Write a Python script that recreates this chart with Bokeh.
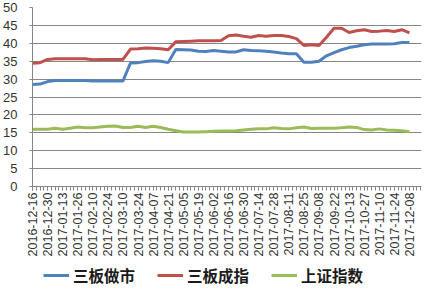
from bokeh.plotting import figure
from bokeh.models import Range1d, FixedTicker, Legend, LegendItem
from bokeh.layouts import column
from bokeh.embed import file_html
from bokeh.resources import INLINE

# Tick labels (every other week)
tick_labels = ["2016-12-16", "2016-12-30", "2017-01-13", "2017-01-26", "2017-02-10",
               "2017-02-24", "2017-03-10", "2017-03-24", "2017-04-07", "2017-04-21",
               "2017-05-05", "2017-05-19", "2017-06-02", "2017-06-16", "2017-06-30",
               "2017-07-14", "2017-07-28", "2017-08-11", "2017-08-25", "2017-09-08",
               "2017-09-22", "2017-10-13", "2017-10-27", "2017-11-10", "2017-11-24",
               "2017-12-08"]

series_names = ["三板做市", "三板成指", "上证指数"]

sanban_zuoshi = [28.5, 28.6, 29.3, 29.6, 29.6, 29.6, 29.6, 29.6, 29.5, 29.5,
                 29.5, 29.5, 29.5, 34.5, 34.6, 34.9, 35.1, 35.0, 34.6, 38.3,
                 38.2, 38.1, 37.8, 37.7, 38.0, 37.8, 37.6, 37.6, 38.2, 38.0,
                 37.9, 37.8, 37.6, 37.3, 37.1, 37.1, 34.7, 34.7, 35.0, 36.5,
                 37.4, 38.2, 38.8, 39.2, 39.6, 39.8, 39.8, 39.8, 39.9, 40.2,
                 40.2]

sanban_chengzhi = [34.4, 34.6, 35.5, 35.7, 35.7, 35.7, 35.7, 35.7, 35.4, 35.5,
                   35.5, 35.5, 35.5, 38.4, 38.5, 38.7, 38.6, 38.5, 38.2, 40.4,
                   40.5, 40.6, 40.7, 40.7, 40.7, 40.8, 42.1, 42.3, 42.0, 41.7,
                   42.2, 42.0, 42.2, 42.2, 41.9, 41.3, 39.4, 39.6, 39.4, 41.7,
                   44.2, 44.2, 43.0, 43.5, 43.8, 43.3, 43.4, 43.6, 43.3, 43.8,
                   42.9]

shangzheng = [16.0, 16.0, 16.0, 16.3, 16.0, 16.3, 16.6, 16.4, 16.4, 16.6,
              16.8, 16.9, 16.5, 16.5, 16.8, 16.5, 16.8, 16.5, 16.0, 15.6,
              15.2, 15.2, 15.2, 15.3, 15.4, 15.5, 15.5, 15.6, 15.8, 16.0,
              16.1, 16.1, 16.4, 16.2, 16.1, 16.4, 16.6, 16.2, 16.3, 16.3,
              16.3, 16.4, 16.6, 16.5, 15.9, 15.8, 16.1, 15.8, 15.7, 15.6,
              15.3]

colors = ["#4F81BD", "#C0504D", "#9BBB59"]
all_series = [sanban_zuoshi, sanban_chengzhi, shangzheng]

x = list(range(len(sanban_zuoshi)))

p = figure(width=425, height=262, output_backend="svg", toolbar_location=None,
           x_range=Range1d(0, 51.6), y_range=Range1d(0, 50),
           min_border_left=32, min_border_right=4, min_border_top=7, min_border_bottom=76)
p.outline_line_color = None
p.background_fill_color = "white"
p.border_fill_color = "white"

for ys, c in zip(all_series, colors):
    p.line(x, ys, line_color=c, line_width=3)

# x axis
major = list(range(0, 2 * len(tick_labels), 2))
p.xaxis.ticker = FixedTicker(ticks=major, minor_ticks=[i * 0.5 for i in range(0, 104)])
p.xaxis.major_label_overrides = {m: lab for m, lab in zip(major, tick_labels)}
p.xaxis.major_label_orientation = 1.5708
p.xaxis.major_label_text_font = "Liberation Sans"
p.xaxis.major_label_text_font_size = "12.5px"
p.xaxis.major_label_text_color = "#333333"
p.xaxis.major_label_standoff = 2
p.xaxis.major_tick_in = 0
p.xaxis.major_tick_out = 4
p.xaxis.minor_tick_in = 0
p.xaxis.minor_tick_out = 4
p.xaxis.axis_line_color = "#868686"
p.xaxis.major_tick_line_color = "#868686"
p.xaxis.minor_tick_line_color = "#868686"
p.xgrid.grid_line_color = None

# y axis
p.yaxis.ticker = FixedTicker(ticks=list(range(0, 51, 5)))
p.yaxis.major_label_text_font = "Liberation Sans"
p.yaxis.major_label_text_font_size = "13px"
p.yaxis.major_label_text_color = "#333333"
p.yaxis.major_label_standoff = 12
p.yaxis.major_tick_in = 0
p.yaxis.major_tick_out = 3
p.yaxis.minor_tick_line_color = None
p.yaxis.axis_line_color = "#868686"
p.yaxis.major_tick_line_color = "#868686"
p.ygrid.grid_line_color = "#868686"
p.ygrid.grid_line_width = 1

# legend strip (series drawn out of view, only their legend glyphs show)
leg = figure(width=425, height=27, output_backend="svg", toolbar_location=None,
             x_range=Range1d(-10, -9), y_range=Range1d(-10, -9),
             min_border_left=0, min_border_right=0, min_border_top=0, min_border_bottom=0,
             x_axis_type=None, y_axis_type=None)
leg.outline_line_color = None
leg.xgrid.grid_line_color = None
leg.ygrid.grid_line_color = None
items = []
for n, c, ys in zip(series_names, colors, all_series):
    r = leg.line(x, ys, line_color=c, line_width=3)
    items.append(LegendItem(label=n, renderers=[r]))
legend = Legend(items=items, orientation="horizontal", location=(11, 3),
                label_text_font="Noto Sans CJK SC", label_text_font_style="bold",
                label_text_font_size="15.5px", label_text_color="#1a1a1a",
                glyph_width=26, glyph_height=20, label_height=20, label_standoff=4, spacing=22,
                padding=0, margin=0, border_line_color=None, background_fill_alpha=0)
leg.add_layout(legend, "center")

layout = column(p, leg, spacing=0)
open("out.html", "w").write(file_html(layout, INLINE))
